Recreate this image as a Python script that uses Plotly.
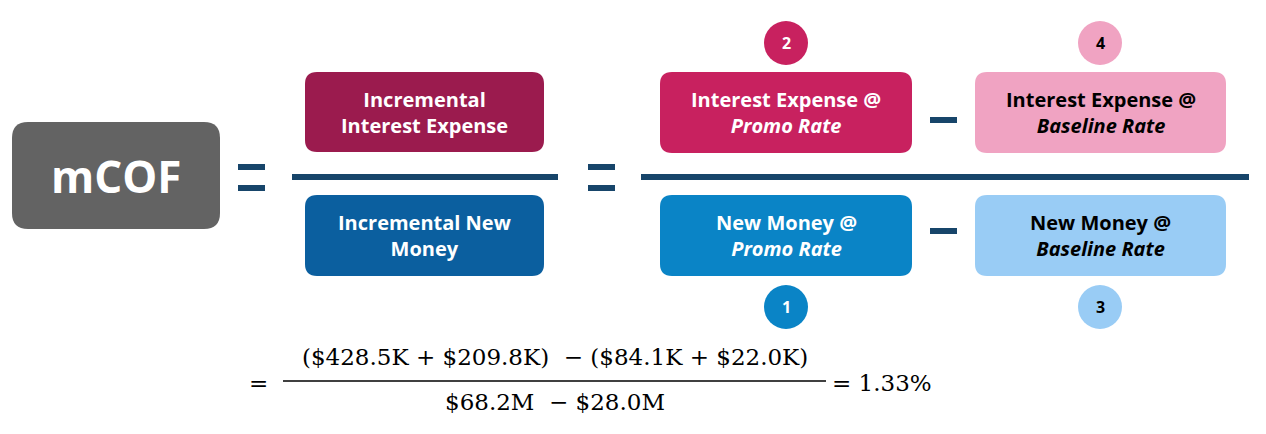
import plotly.graph_objects as go

box_labels = ["<b>mCOF</b>", "<b>Incremental<br>Interest Expense</b>", "<b>Incremental New<br>Money</b>",
              "<b>Interest Expense @<br><i>Promo Rate</i></b>", "<b>Interest Expense @<br><i>Baseline Rate</i></b>",
              "<b>New Money @<br><i>Promo Rate</i></b>", "<b>New Money @<br><i>Baseline Rate</i></b>"]
box_colors = ["#636363", "#9B1B4E", "#0B5F9F", "#C8215F", "#F0A3C2", "#0A84C6", "#99CCF5"]
box_text_colors = ["white", "white", "white", "white", "black", "white", "black"]
box_x = [(12, 220), (305, 544), (305, 544), (660, 912), (975, 1226), (660, 912), (975, 1226)]
box_y = [(122, 229), (72, 152), (195, 276), (72, 153), (72, 153), (195, 276), (195, 276)]

step_labels = ["2", "4", "1", "3"]
step_colors = ["#C8215F", "#F0A3C2", "#0A84C6", "#99CCF5"]
step_text_colors = ["white", "black", "white", "black"]
step_xy = [(786, 43), (1100, 43), (786, 307), (1100, 307)]

numerator = "($428.5K + $209.8K)  − ($84.1K + $22.0K)"
denominator = "$68.2M  − $28.0M"
result = "= 1.33%"

line_col = "#17456A"


def rounded(x0, x1, y0, y1, r=12):
    return (f"M{x0+r},{y0} L{x1-r},{y0} Q{x1},{y0} {x1},{y0+r} L{x1},{y1-r} Q{x1},{y1} {x1-r},{y1} "
            f"L{x0+r},{y1} Q{x0},{y1} {x0},{y1-r} L{x0},{y0+r} Q{x0},{y0} {x0+r},{y0} Z")


fig = go.Figure()
shapes, annos = [], []
for i, lab in enumerate(box_labels):
    (x0, x1), (y0, y1) = box_x[i], box_y[i]
    shapes.append(dict(type="path", path=rounded(x0, x1, y0, y1, 16 if i == 0 else 12),
                       fillcolor=box_colors[i], line_width=0))
    annos.append(dict(x=(x0 + x1) / 2, y=(y0 + y1) / 2, text=lab, showarrow=False,
                      font=dict(family="Open Sans", size=44 if i == 0 else 20, color=box_text_colors[i])))

for i, lab in enumerate(step_labels):
    cx, cy = step_xy[i]
    shapes.append(dict(type="circle", x0=cx - 22, x1=cx + 22, y0=cy - 22, y1=cy + 22,
                       fillcolor=step_colors[i], line_width=0))
    annos.append(dict(x=cx, y=cy, text=f"<b>{lab}</b>", showarrow=False,
                      font=dict(family="Open Sans", size=16, color=step_text_colors[i])))

# fraction bars
for x0, x1 in [(292, 558), (641, 1249)]:
    shapes.append(dict(type="line", x0=x0, x1=x1, y0=177, y1=177, line=dict(color=line_col, width=6)))
# equals signs
for x0 in [238, 588]:
    for y in [167, 188]:
        shapes.append(dict(type="line", x0=x0, x1=x0 + 27, y0=y, y1=y, line=dict(color=line_col, width=6)))
# minus signs
for y in [120, 231]:
    shapes.append(dict(type="line", x0=930, x1=957, y0=y, y1=y, line=dict(color=line_col, width=6)))

# bottom formula
serif = dict(family="DejaVu Serif", size=23, color="black")
shapes.append(dict(type="line", x0=283, x1=826, y0=381, y1=381, line=dict(color="black", width=1.5)))
annos += [
    dict(x=258, y=383, text="=", showarrow=False, font=serif),
    dict(x=555, y=357, text=numerator, showarrow=False, font=serif),
    dict(x=555, y=402, text=denominator, showarrow=False, font=serif),
    dict(x=830, y=383, text=result, showarrow=False, xanchor="left", font=serif),
]

# page body adds an 8px offset, so shift the coordinate window by it
fig.update_layout(width=1266, height=434, margin=dict(l=0, r=0, t=0, b=0),
                  paper_bgcolor="white", plot_bgcolor="white", shapes=shapes, annotations=annos,
                  xaxis=dict(range=[8, 1274], visible=False, fixedrange=True),
                  yaxis=dict(range=[442, 8], visible=False, fixedrange=True),
                  showlegend=False)
fig.write_html("out.html", config={"displayModeBar": False})
